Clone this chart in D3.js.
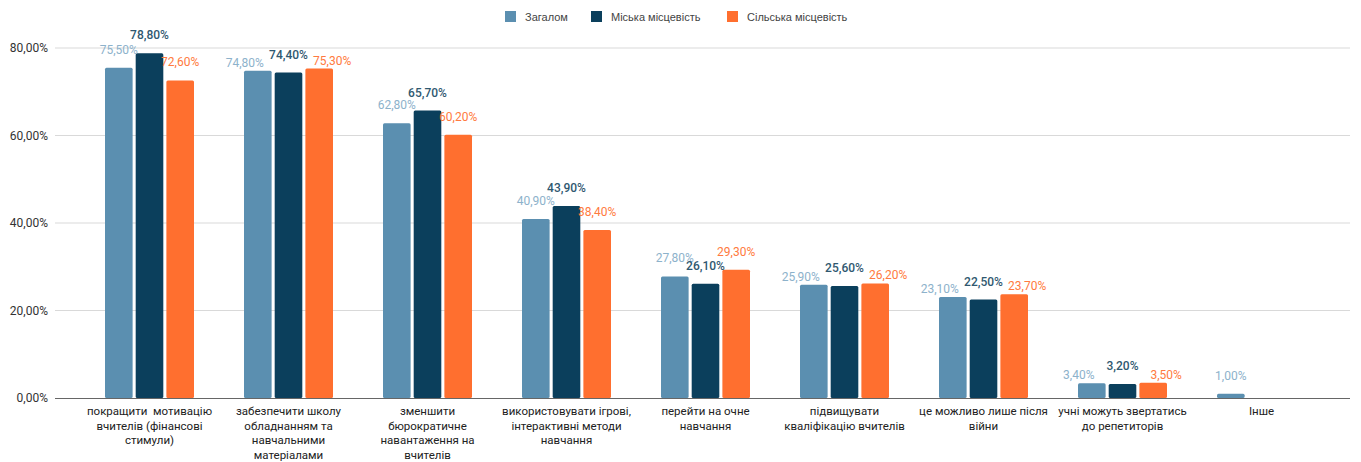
<!DOCTYPE html>
<html><head><meta charset="utf-8">
<script src="https://cdn.jsdelivr.net/npm/d3@7"></script>
<style>body{margin:0;background:#fff}svg{display:block}</style>
</head><body><svg id="c" width="1361" height="462"></svg>
<script>
const categories = [
  ["покращити  мотивацію","вчителів (фінансові","стимули)"],
  ["забезпечити школу","обладнанням та","навчальними","матеріалами"],
  ["зменшити","бюрократичне","навантаження на","вчителів"],
  ["використовувати ігрові,","інтерактивні методи","навчання"],
  ["перейти на очне","навчання"],
  ["підвищувати","кваліфікацію вчителів"],
  ["це можливо лише після","війни"],
  ["учні можуть звертатись","до репетиторів"],
  ["Інше"]
];
const seriesNames = ["Загалом","Міська місцевість","Сільська місцевість"];
const zagalom = [75.5,74.8,62.8,40.9,27.8,25.9,23.1,3.4,1.0];
const miska = [78.8,74.4,65.7,43.9,26.1,25.6,22.5,3.2,null];
const silska = [72.6,75.3,60.2,38.4,29.3,26.2,23.7,3.5,null];
const yTicks = [0,20,40,60,80];

const barColors = ["#5b8fb0","#0b3f5c","#ff6f2f"];
const labelColors = ["#8db2cb","#2f5870","#ff7a40"];
const series = [zagalom, miska, silska];

const svg = d3.select("#c");
const font = "Roboto, sans-serif";
const y = d3.scaleLinear().domain([0,80]).range([398,48]);
const x = d3.scaleBand().domain(d3.range(categories.length)).range([80,1331]);
const xs = d3.scaleBand().domain(d3.range(3)).range([0,89]).paddingInner(0.1);

// grid
svg.append("g").selectAll("line").data(yTicks.filter(d=>d>0)).join("line")
  .attr("x1",55).attr("x2",1350).attr("y1",d=>y(d)).attr("y2",d=>y(d))
  .attr("stroke","#d9d9d9").attr("stroke-width",1);
svg.append("g").selectAll("text").data(yTicks).join("text")
  .attr("x",48).attr("y",d=>y(d)+4).attr("text-anchor","end")
  .attr("font-family",font).attr("font-size",12).attr("fill","#333")
  .text(d=>d3.format(".2f")(d).replace(".",",")+"%");

// bars + labels with simple collision handling
const bw = xs.bandwidth();
const barX = (i,si)=> x(i)+(x.bandwidth()-89)/2+xs(si);
series.forEach((vals,si)=>{
  const g = svg.append("g");
  vals.forEach((v,i)=>{
    if(v==null) return;
    g.append("rect").attr("x",barX(i,si)).attr("y",y(v)).attr("width",bw)
      .attr("height",y(0)-y(v)).attr("fill",barColors[si]).attr("rx",1.5);
  });
});
const lblG = svg.append("g");
categories.forEach((c,i)=>{
  const mid = miska[i];
  series.forEach((vals,si)=>{
    const v = vals[i];
    if(v==null) return;
    let lx = barX(i,si)+bw/2, ly = y(v)-14;
    if(si!==1 && mid!=null && Math.abs(y(v)-y(mid))<7){
      lx += si===0 ? -13 : 13;
      ly = y(v)-4;
    }
    lblG.append("text").attr("x",lx).attr("y",ly)
      .attr("text-anchor","middle").attr("font-family",font).attr("font-size",12)
      .attr("font-weight",si===1?"500":"400")
      .attr("fill",labelColors[si]).text(v.toFixed(2).replace(".",",")+"%");
  });
});

// x axis
svg.append("line").attr("x1",55).attr("x2",1350).attr("y1",398.5).attr("y2",398.5)
  .attr("stroke","#666").attr("stroke-width",1.2);
const cl = svg.append("g");
categories.forEach((lines,i)=>{
  const t = cl.append("text").attr("text-anchor","middle").attr("font-family",font)
    .attr("font-size",11.5).attr("fill","#222");
  lines.forEach((ln,j)=>{
    t.append("tspan").attr("x",x(i)+x.bandwidth()/2).attr("y",415+j*14.7).attr("xml:space","preserve").text(ln);
  });
});

// legend
const lg = svg.append("g");
const lx = [505,591,727];
seriesNames.forEach((n,i)=>{
  lg.append("rect").attr("x",lx[i]).attr("y",11).attr("width",11).attr("height",11).attr("fill",barColors[i]);
  lg.append("text").attr("x",lx[i]+20).attr("y",20.5).attr("font-family","Liberation Sans, Arial, sans-serif")
    .attr("font-size",11).attr("fill","#444").text(n);
});
</script></body></html>
